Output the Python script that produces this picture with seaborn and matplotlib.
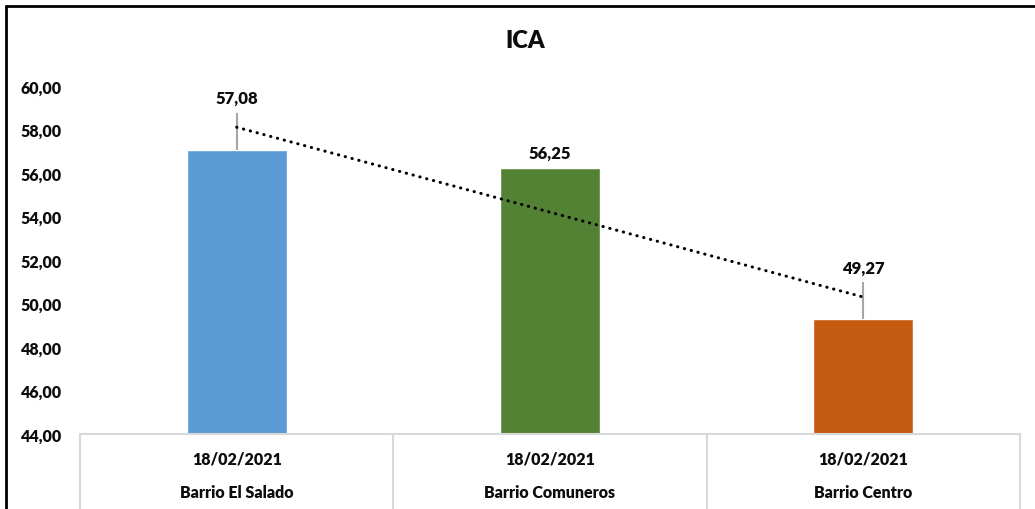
import numpy as np
import pandas as pd
import matplotlib
matplotlib.use("Agg")
import matplotlib.pyplot as plt
from matplotlib.lines import Line2D
import seaborn as sb

# data
barrios = ["Barrio El Salado", "Barrio Comuneros", "Barrio Centro"]
fechas = ["18/02/2021", "18/02/2021", "18/02/2021"]
ica = [57.08, 56.25, 49.27]
err_up = [1.7, 0.0, 1.7]
colores = ["#5B9BD5", "#548235", "#C55A11"]
yticks = [44, 46, 48, 50, 52, 54, 56, 58, 60]

df = pd.DataFrame({"barrio": barrios, "ica": ica})

sb.set_style("white")
plt.rcParams["font.family"] = ["Lato", "DejaVu Sans"]
W = "heavy"
TXT = "#0D0D0D"

fig = plt.figure(figsize=(10.35, 5.1), dpi=100)
ax = fig.add_axes([80 / 1035, 1 - 435 / 510, 940 / 1035, 348 / 510])

sb.barplot(data=df, x="barrio", y="ica", hue="barrio", palette=colores,
           width=0.32, legend=False, ax=ax, saturation=1, bottom=0)
ax.set_ylim(44, 60)
ax.set_xlim(-0.5, 2.5)

# error bars (upward only)
xs = np.arange(len(ica))
ax.errorbar(xs, ica, yerr=[np.zeros(len(ica)), err_up], fmt="none",
            ecolor="#A6A6A6", elinewidth=1.5, capsize=0, zorder=3)

# linear trendline
coef = np.polyfit(xs, ica, 1)
ax.plot(xs[[0, -1]], np.polyval(coef, xs[[0, -1]]), color="black",
        linewidth=2.2, linestyle=(0, (0.1, 2.2)), dash_capstyle="round", zorder=4)

# data labels
for x, v, e in zip(xs, ica, err_up):
    ax.annotate(f"{v:.2f}".replace(".", ","), xy=(x, v + e), xytext=(0, 5),
                textcoords="offset points", ha="center", va="bottom",
                fontsize=12, fontweight=W, color=TXT)

ax.set_yticks(yticks)
ax.set_yticklabels([f"{t:.2f}".replace(".", ",") for t in yticks],
                   fontsize=11.5, fontweight=W, color=TXT)
ax.tick_params(axis="y", length=0, pad=13)
ax.set_xticks([])
ax.set_xlabel("")
ax.set_ylabel("")
for s in ["left", "right", "top"]:
    ax.spines[s].set_visible(False)
ax.spines["bottom"].set_color("#D9D9D9")
ax.spines["bottom"].set_linewidth(1.5)

# multi-level category axis (table-like)
tr = ax.get_xaxis_transform()
for b in [-0.5, 0.5, 1.5, 2.5]:
    ax.plot([b, b], [0, -0.3], transform=tr, color="#D9D9D9", linewidth=1.5,
            clip_on=False)
for x, f, b in zip(xs, fechas, barrios):
    ax.text(x, -0.07, f, transform=tr, ha="center", va="center",
            fontsize=11.5, fontweight=W, color=TXT)
    ax.text(x, -0.167, b, transform=tr, ha="center", va="center",
            fontsize=11.5, fontweight=W, color=TXT)

fig.text(525 / 1035, 1 - 41 / 510, "ICA", ha="center", va="center",
         fontsize=17, fontweight=W, color=TXT)

# chart frame (top and left edges visible)
fig.add_artist(Line2D([6 / 1035, 1], [1 - 7 / 510, 1 - 7 / 510],
                      color="black", linewidth=2, transform=fig.transFigure))
fig.add_artist(Line2D([6 / 1035, 6 / 1035], [0, 1 - 7 / 510],
                      color="black", linewidth=2, transform=fig.transFigure))

fig.savefig("out.png", dpi=100)
